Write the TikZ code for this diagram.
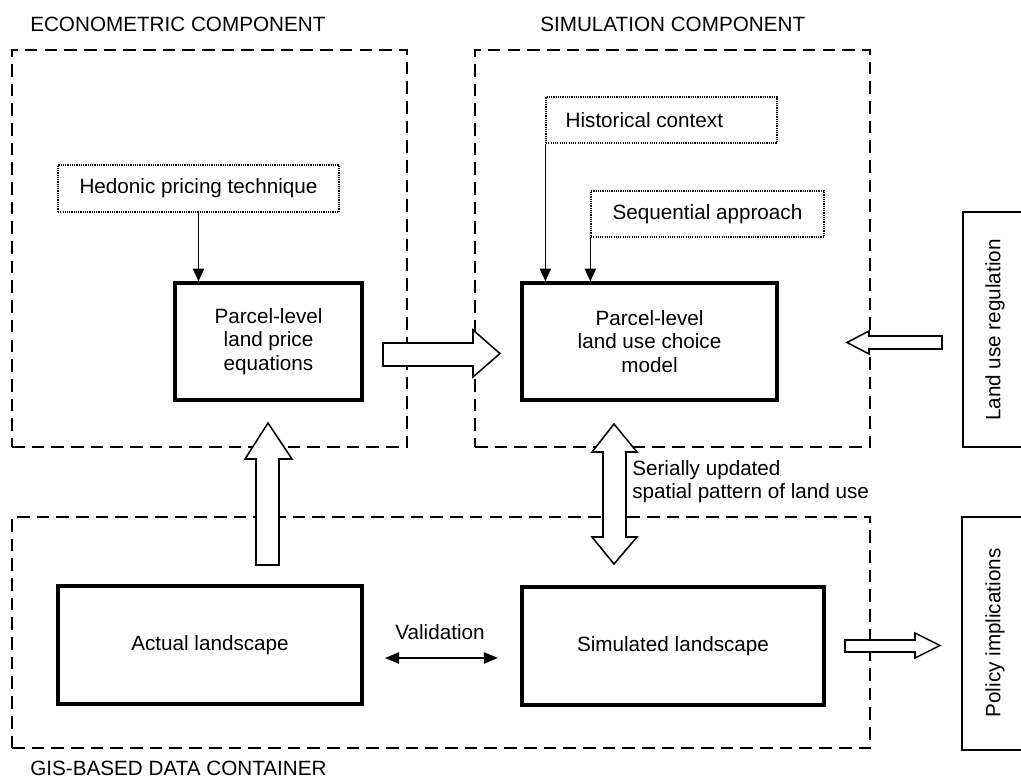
\documentclass[tikz,border=0pt]{standalone}
\usepackage{fontspec}
\setmainfont{Liberation Sans}
\usetikzlibrary{positioning,arrows.meta,calc,fit}
\tikzset{
  grp/.style={draw, line width=1.1pt, dash pattern=on 9pt off 5pt, inner sep=0pt},
  dotbox/.style={draw, line width=0.9pt, dash pattern=on 0.8pt off 0.8pt, inner sep=0pt},
  mainbox/.style={draw, line width=2.4pt, inner sep=0pt},
  sidebox/.style={draw, line width=0.8pt, inner sep=0pt},
  fat/.style={draw, line width=1.1pt, fill=white, line join=miter},
  feed/.style={line width=0.9pt, -{Triangle[length=9pt,width=8pt]}},
  txt/.style={inner sep=0pt, align=center}
}
\begin{document}
\begin{tikzpicture}[x=0.025cm, y=-0.025cm, font=\fontsize{14.7pt}{16.7pt}\selectfont]
   \useasboundingbox (0,0) rectangle (1021,780);
   \node[grp, fit={(12,50) (407,447)}] (econ) {};
   \node[grp, fit={(475,50) (870,447)}] (sim) {};
   \node[grp, fit={(12,517) (870,748)}] (gis) {};
   \node[txt, anchor=west] (econT) at (30,24) {ECONOMETRIC COMPONENT};
   \node[txt, anchor=west] (simT) at (540,24) {SIMULATION COMPONENT};
   \node[txt, anchor=west] (gisT) at (30,768) {GIS-BASED DATA CONTAINER};

   \node[dotbox, fit={(58,165) (339,212)}] (hed) {};
   \node[txt] (hedT) at (hed) {Hedonic pricing technique};
   \node[mainbox, fit={(175,283) (362,400)}] (price) {};
   \node[txt] (priceT) at (price) {Parcel-level\\land price\\equations};
   \node[dotbox, fit={(546,97) (777,143)}] (hist) {};
   \node[txt, anchor=west] (histT) at ($(hist.west)+(20,0)$) {Historical context};
   \node[dotbox, fit={(591,191) (824,237)}] (seq) {};
   \node[txt] (seqT) at (seq) {Sequential approach};
   \node[mainbox, fit={(522,283) (777,400)}] (choice) {};
   \node[txt] (choiceT) at (choice) {Parcel-level\\land use choice\\model};
   \node[sidebox, fit={(963,212) (1030,447)}] (reg) {};
   \node[txt, rotate=90] (regT) at (995,330) {Land use regulation};
   \node[sidebox, fit={(962,517) (1030,750)}] (pol) {};
   \node[txt, rotate=90] (polT) at (995,633) {Policy implications};
   \node[mainbox, fit={(58,586) (362,704)}] (act) {};
   \node[txt] (actT) at (act) {Actual landscape};
   \node[mainbox, fit={(522,587) (824,705)}] (simland) {};
   \node[txt] (simlandT) at (simland) {Simulated landscape};
   \node[txt] (val) at (440,632) {Validation};
   \node[txt, anchor=west, align=left] (upd) at (632,481.5) {Serially updated\\spatial pattern of land use};

   \coordinate (v1) at (385,658);
   \coordinate (v2) at (498,658);
   \draw[feed] (hed.south) -- (hed.south |- price.north);
   \draw[feed] (hist.south west) -- (hist.south west |- choice.north);
   \draw[feed] (seq.south west) -- (seq.south west |- choice.north);
   \draw[line width=0.9pt, {Triangle[length=10pt,width=8pt]}-{Triangle[length=10pt,width=8pt]}] (v1) -- (v2);

   \draw[fat] (383,343) -- (473,343) -- (473,330) -- (500,353.5) -- (473,377) -- (473,366) -- (383,366) -- cycle;
   \draw[fat] (256,565) -- (256,459) -- (245,459) -- (268,423) -- (292,459) -- (279,459) -- (279,565) -- cycle;
   \draw[fat] (614,424) -- (637,452) -- (626,452) -- (626,537) -- (637,537) -- (614,564)
              -- (592,537) -- (603,537) -- (603,452) -- (592,452) -- cycle;
   \draw[fat] (847,342.5) -- (869,331) -- (869,336) -- (942,336) -- (942,349) -- (869,349) -- (869,354) -- cycle;
   \draw[fat] (845,640) -- (915,640) -- (915,633) -- (940,645.5) -- (915,658) -- (915,652) -- (845,652) -- cycle;
\end{tikzpicture}
\end{document}
